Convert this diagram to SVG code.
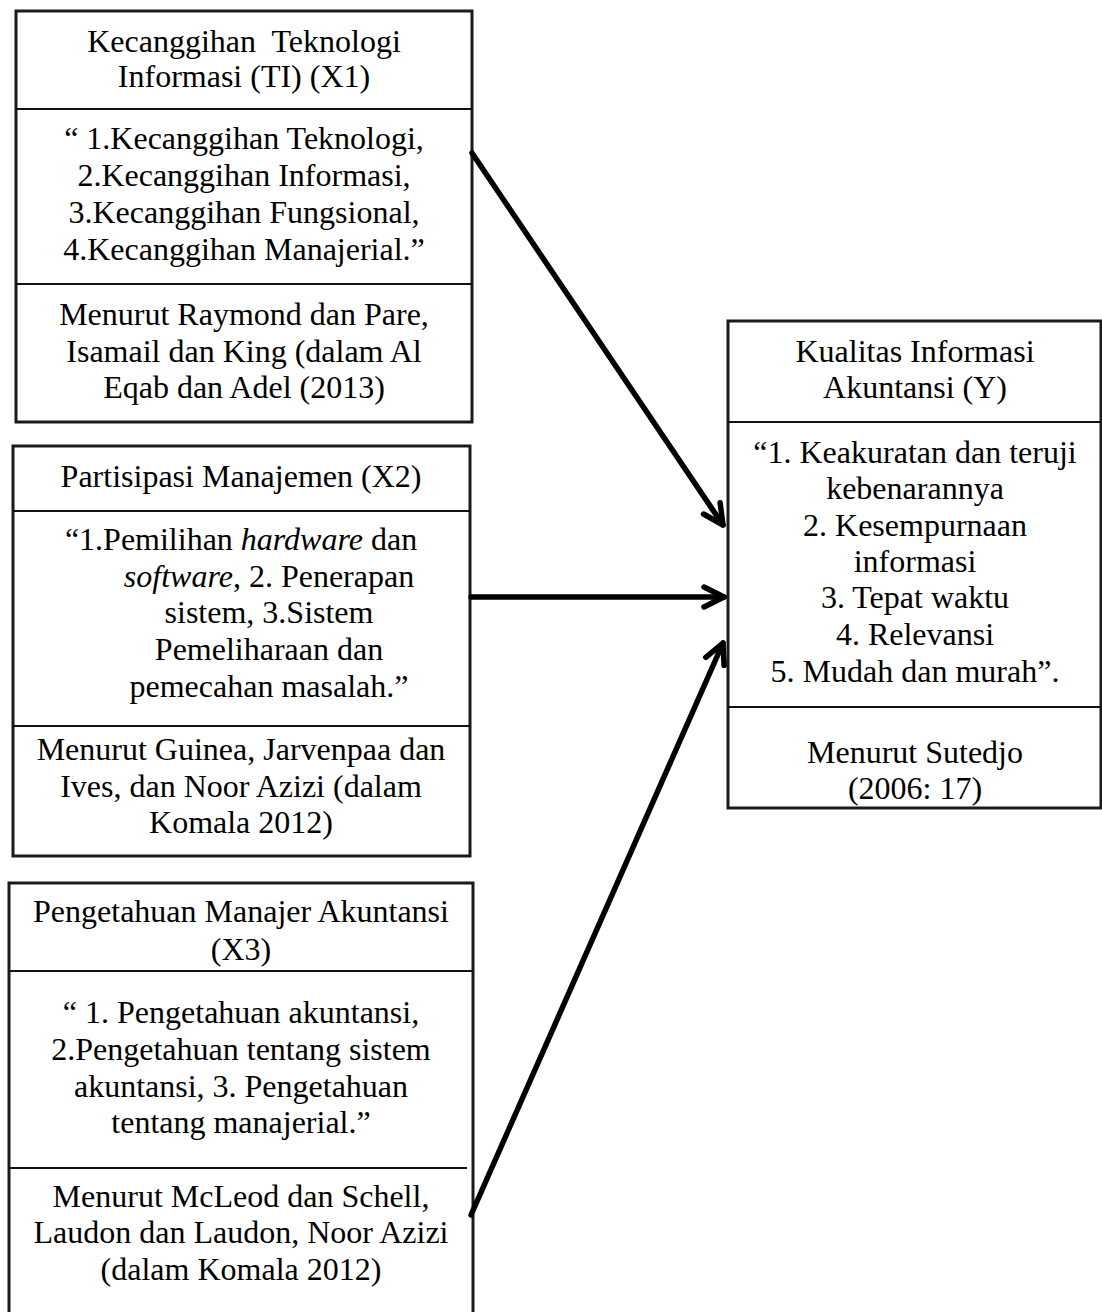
<svg xmlns="http://www.w3.org/2000/svg" width="1102" height="1312" viewBox="0 0 1102 1312">
<style>
  .box { fill: #ffffff; stroke: #1a1a1a; stroke-width: 3; }
  .div { stroke: #111111; stroke-width: 2; }
  .t { font-family: "Liberation Serif", "Times New Roman", serif; font-size: 32px; fill: #000000; text-anchor: middle; }
  .pre { white-space: pre; }
  .conn { stroke: #000000; stroke-width: 5.5; fill: none; stroke-linecap: round; }
</style>
<defs>
  <marker id="arr" markerUnits="userSpaceOnUse" viewBox="-26 -14 30 28" markerWidth="30" markerHeight="28" refX="0" refY="0" orient="auto" overflow="visible">
    <path d="M -20 -10 L 0 0 L -20 10" fill="none" stroke="#000000" stroke-width="5.5" stroke-linecap="round" stroke-linejoin="round"/>
  </marker>
</defs>
<rect width="1102" height="1312" fill="#ffffff"/>

<g id="node-x1">
  <rect class="box" x="16" y="11" width="456" height="411"/>
  <line class="div" x1="16" y1="109" x2="472" y2="109"/>
  <line class="div" x1="16" y1="284" x2="472" y2="284"/>
  <text class="t pre" x="244" y="52" xml:space="preserve">Kecanggihan  Teknologi</text>
  <text class="t" x="244" y="87">Informasi (TI) (X1)</text>
  <text class="t" x="244" y="149">“ 1.Kecanggihan Teknologi,</text>
  <text class="t" x="244" y="186">2.Kecanggihan Informasi,</text>
  <text class="t" x="244" y="223">3.Kecanggihan Fungsional,</text>
  <text class="t" x="244" y="260">4.Kecanggihan Manajerial.”</text>
  <text class="t" x="244" y="325">Menurut Raymond dan Pare,</text>
  <text class="t" x="244" y="362">Isamail dan King (dalam Al</text>
  <text class="t" x="244" y="398">Eqab dan Adel (2013)</text>
</g>

<g id="node-x2">
  <rect class="box" x="13" y="446" width="457" height="410"/>
  <line class="div" x1="13" y1="511" x2="470" y2="511"/>
  <line class="div" x1="13" y1="726" x2="470" y2="726"/>
  <text class="t" x="241" y="487">Partisipasi Manajemen (X2)</text>
  <text class="t" x="241" y="550">“1.Pemilihan <tspan font-style="italic">hardware</tspan> dan</text>
  <text class="t" x="269" y="587"><tspan font-style="italic">software</tspan>, 2. Penerapan</text>
  <text class="t" x="269" y="623">sistem, 3.Sistem</text>
  <text class="t" x="269" y="660">Pemeliharaan dan</text>
  <text class="t" x="269" y="697">pemecahan masalah.”</text>
  <text class="t" x="241" y="760">Menurut Guinea, Jarvenpaa dan</text>
  <text class="t" x="241" y="797">Ives, dan Noor Azizi (dalam</text>
  <text class="t" x="241" y="833">Komala 2012)</text>
</g>

<g id="node-x3">
  <rect class="box" x="9" y="883" width="464" height="450"/>
  <line class="div" x1="9" y1="971" x2="473" y2="971"/>
  <line class="div" x1="9" y1="1168" x2="467" y2="1168"/>
  <text class="t" x="241" y="922">Pengetahuan Manajer Akuntansi</text>
  <text class="t" x="241" y="960">(X3)</text>
  <text class="t" x="241" y="1023">“ 1. Pengetahuan akuntansi,</text>
  <text class="t" x="241" y="1060">2.Pengetahuan tentang sistem</text>
  <text class="t" x="241" y="1097">akuntansi, 3. Pengetahuan</text>
  <text class="t" x="241" y="1133">tentang manajerial.”</text>
  <text class="t" x="241" y="1207">Menurut McLeod dan Schell,</text>
  <text class="t" x="241" y="1243">Laudon dan Laudon, Noor Azizi</text>
  <text class="t" x="241" y="1280">(dalam Komala 2012)</text>
</g>

<g id="node-y">
  <rect class="box" x="728" y="321" width="373" height="487"/>
  <line class="div" x1="728" y1="422" x2="1101" y2="422"/>
  <line class="div" x1="728" y1="707" x2="1101" y2="707"/>
  <text class="t" x="915" y="362">Kualitas Informasi</text>
  <text class="t" x="915" y="398">Akuntansi (Y)</text>
  <text class="t" x="915" y="463">“1. Keakuratan dan teruji</text>
  <text class="t" x="915" y="499">kebenarannya</text>
  <text class="t" x="915" y="536">2. Kesempurnaan</text>
  <text class="t" x="915" y="572">informasi</text>
  <text class="t" x="915" y="608">3. Tepat waktu</text>
  <text class="t" x="915" y="645">4. Relevansi</text>
  <text class="t" x="915" y="682">5. Mudah dan murah”.</text>
  <text class="t" x="915" y="763">Menurut Sutedjo</text>
  <text class="t" x="915" y="799">(2006: 17)</text>
</g>

<g id="connectors">
  <line class="conn" x1="472" y1="153" x2="723" y2="525" marker-end="url(#arr)"/>
  <line class="conn" x1="471" y1="597" x2="724" y2="597" marker-end="url(#arr)"/>
  <line class="conn" x1="471" y1="1215" x2="723" y2="643" marker-end="url(#arr)"/>
</g>
</svg>
